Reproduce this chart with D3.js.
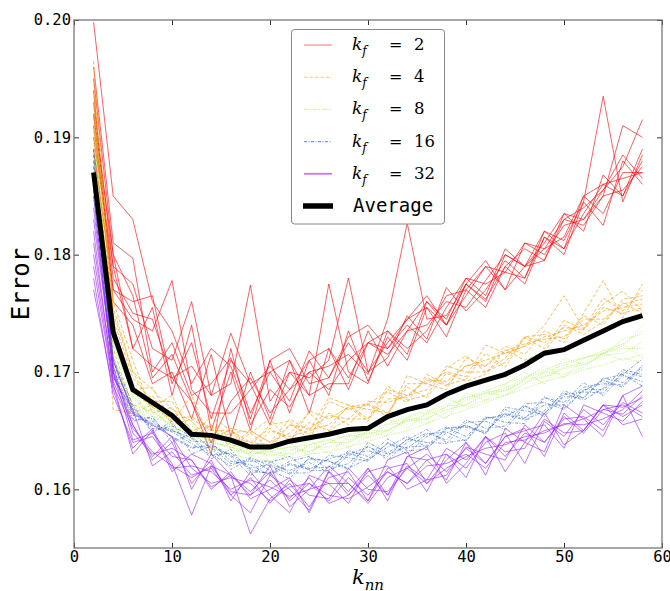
<!DOCTYPE html>
<html>
<head>
<meta charset="utf-8">
<script src="https://cdn.jsdelivr.net/npm/d3@7"></script>
<style>
  body { margin: 0; background: #fff; }
  svg { display: block; }
</style>
</head>
<body>
<svg id="chart" width="670" height="591"></svg>
<script>
// Neighbourhood sizes on the x axis
const kNN = [2,4,6,8,10,12,14,16,18,20,22,24,26,28,30,32,34,36,38,40,42,44,46,48,50,52,54,56,58];

// Axis ticks
const xTicks = [0, 10, 20, 30, 40, 50, 60];
const yTicks = [0.16, 0.17, 0.18, 0.19, 0.20];

// Error curves, one row per run, for each k_f
const runsKf2 = [
  [.1998,.1850,.1830,.1760,.1735,.1690,.1720,.1705,.1660,.1710,.1720,.1690,.1695,.1730,.1740,.1720,.1745,.1765,.1740,.1775,.1795,.1770,.1790,.1805,.1830,.1840,.1855,.1875,.1915],
  [.1950,.1800,.1720,.1755,.1680,.1740,.1650,.1700,.1650,.1710,.1665,.1710,.1680,.1735,.1692,.1730,.1710,.1755,.1730,.1770,.1755,.1790,.1775,.1815,.1800,.1845,.1825,.1880,.1860],
  [.1920,.1770,.1760,.1765,.1690,.1725,.1660,.1710,.1690,.1655,.1700,.1680,.1775,.1700,.1690,.1735,.1715,.1760,.1740,.1775,.1760,.1800,.1790,.1820,.1805,.1835,.1860,.1850,.1890],
  [.1900,.1790,.1775,.1720,.1710,.1760,.1680,.1733,.1690,.1700,.1675,.1718,.1695,.1725,.1700,.1712,.1748,.1728,.1772,.1752,.1770,.1795,.1780,.1815,.1805,.1850,.1835,.1870,.1870],
  [.1940,.1760,.1740,.1690,.1700,.1660,.1715,.1645,.1700,.1660,.1710,.1680,.1690,.1690,.1735,.1705,.1735,.1760,.1745,.1780,.1765,.1805,.1790,.1795,.1835,.1820,.1868,.1850,.1880],
  [.1960,.1810,.1797,.1700,.1725,.1680,.1690,.1712,.1665,.1700,.1710,.1665,.1720,.1685,.1725,.1735,.1720,.1735,.1765,.1770,.1790,.1770,.1810,.1800,.1825,.1830,.1855,.1885,.1865],
  [.1910,.1780,.1750,.1745,.1695,.1705,.1680,.1690,.1774,.1675,.1700,.1695,.1710,.1780,.1700,.1725,.1745,.1755,.1740,.1765,.1790,.1785,.1780,.1820,.1812,.1845,.1935,.1845,.1885],
  [.1930,.1790,.1720,.1705,.1695,.1675,.1630,.1720,.1655,.1685,.1670,.1700,.1705,.1715,.1698,.1745,.1827,.1745,.1748,.1775,.1762,.1790,.1805,.1795,.1830,.1825,.1850,.1855,.1875],
  [.1890,.1770,.1745,.1735,.1778,.1685,.1665,.1665,.1685,.1705,.1685,.1700,.1685,.1710,.1725,.1715,.1735,.1740,.1760,.1755,.1778,.1800,.1790,.1810,.1835,.1830,.1850,.1910,.1900],
  [.1920,.1800,.1765,.1695,.1715,.1675,.1640,.1675,.1695,.1665,.1685,.1710,.1720,.1695,.1725,.1720,.1740,.1725,.1755,.1780,.1775,.1785,.1810,.1805,.1815,.1850,.1860,.1865,.1870]
];

const runsKf4 = [
  [.1965,.1750,.1700,.1670,.1680,.1645,.1662,.1650,.1637,.1655,.1658,.1642,.1675,.1668,.1672,.1662,.1697,.1690,.1700,.1696,.1723,.1716,.1722,.1740,.1765,.1737,.1763,.1752,.1770],
  [.1910,.1730,.1685,.1687,.1657,.1680,.1640,.1652,.1648,.1660,.1640,.1667,.1660,.1670,.1658,.1685,.1680,.1685,.1703,.1714,.1700,.1708,.1729,.1720,.1744,.1736,.1758,.1769,.1752],
  [.1940,.1760,.1710,.1665,.1670,.1643,.1655,.1635,.1648,.1635,.1655,.1647,.1665,.1655,.1673,.1683,.1674,.1698,.1689,.1694,.1716,.1704,.1730,.1732,.1725,.1750,.1778,.1746,.1775],
  [.1900,.1720,.1670,.1680,.1655,.1660,.1650,.1650,.1631,.1650,.1645,.1650,.1655,.1670,.1673,.1665,.1687,.1678,.1699,.1692,.1698,.1719,.1710,.1717,.1740,.1732,.1743,.1759,.1750],
  [.1930,.1745,.1695,.1675,.1675,.1650,.1645,.1650,.1640,.1652,.1642,.1657,.1650,.1660,.1660,.1677,.1678,.1695,.1688,.1706,.1705,.1718,.1724,.1728,.1730,.1745,.1745,.1758,.1762],
  [.1950,.1735,.1685,.1670,.1660,.1662,.1652,.1638,.1650,.1640,.1660,.1650,.1678,.1672,.1660,.1688,.1676,.1680,.1705,.1700,.1700,.1712,.1730,.1725,.1738,.1736,.1755,.1750,.1755],
  [.1920,.1755,.1700,.1685,.1668,.1658,.1640,.1648,.1650,.1640,.1648,.1665,.1650,.1672,.1668,.1665,.1690,.1690,.1685,.1712,.1705,.1722,.1715,.1735,.1728,.1748,.1740,.1762,.1765],
  [.1890,.1668,.1665,.1672,.1662,.1650,.1655,.1644,.1640,.1638,.1655,.1652,.1663,.1660,.1675,.1674,.1680,.1693,.1692,.1705,.1710,.1716,.1722,.1730,.1735,.1740,.1752,.1755,.1758]
];

const runsKf8 = [
  [.1920,.1730,.1685,.1658,.1665,.1642,.1652,.1640,.1628,.1635,.1640,.1628,.1648,.1642,.1650,.1660,.1652,.1665,.1678,.1670,.1676,.1690,.1700,.1690,.1712,.1706,.1715,.1728,.1732],
  [.1880,.1710,.1668,.1672,.1648,.1658,.1635,.1630,.1638,.1624,.1632,.1642,.1630,.1645,.1648,.1646,.1662,.1668,.1660,.1682,.1676,.1680,.1694,.1705,.1695,.1712,.1716,.1710,.1715],
  [.1910,.1725,.1680,.1662,.1660,.1650,.1640,.1636,.1632,.1630,.1628,.1638,.1643,.1636,.1645,.1655,.1658,.1664,.1670,.1678,.1682,.1686,.1695,.1700,.1706,.1712,.1716,.1722,.1740],
  [.1870,.1715,.1665,.1668,.1652,.1648,.1642,.1634,.1630,.1634,.1636,.1632,.1640,.1646,.1644,.1650,.1660,.1656,.1666,.1676,.1682,.1680,.1690,.1700,.1698,.1704,.1716,.1724,.1712],
  [.1930,.1735,.1678,.1662,.1656,.1652,.1640,.1636,.1630,.1632,.1630,.1636,.1636,.1640,.1648,.1650,.1658,.1660,.1668,.1672,.1680,.1684,.1692,.1695,.1703,.1706,.1714,.1716,.1726],
  [.1890,.1705,.1672,.1666,.1654,.1648,.1644,.1638,.1634,.1628,.1634,.1632,.1640,.1640,.1650,.1650,.1660,.1660,.1671,.1672,.1683,.1684,.1694,.1696,.1704,.1708,.1716,.1720,.1720],
  [.1905,.1722,.1682,.1670,.1658,.1654,.1646,.1640,.1635,.1632,.1636,.1638,.1642,.1646,.1651,.1656,.1661,.1666,.1672,.1678,.1684,.1690,.1696,.1702,.1708,.1712,.1718,.1724,.1735],
  [.1875,.1712,.1668,.1660,.1650,.1644,.1636,.1630,.1626,.1624,.1626,.1630,.1632,.1636,.1641,.1646,.1650,.1656,.1662,.1668,.1674,.1680,.1686,.1692,.1696,.1702,.1706,.1712,.1708]
];

const runsKf16 = [
  [.1890,.1712,.1672,.1648,.1658,.1630,.1637,.1628,.1612,.1623,.1628,.1616,.1616,.1633,.1628,.1643,.1633,.1634,.1652,.1653,.1648,.1670,.1667,.1664,.1684,.1678,.1694,.1698,.1711],
  [.1850,.1698,.1658,.1662,.1640,.1648,.1635,.1617,.1626,.1616,.1609,.1627,.1624,.1617,.1640,.1631,.1642,.1651,.1640,.1642,.1662,.1657,.1656,.1678,.1674,.1691,.1680,.1697,.1692],
  [.1880,.1708,.1668,.1652,.1650,.1644,.1626,.1634,.1615,.1614,.1624,.1628,.1617,.1622,.1637,.1625,.1640,.1648,.1642,.1659,.1652,.1654,.1673,.1674,.1668,.1684,.1693,.1687,.1706],
  [.1860,.1700,.1660,.1658,.1645,.1636,.1636,.1622,.1624,.1624,.1614,.1614,.1629,.1627,.1624,.1640,.1630,.1645,.1653,.1645,.1660,.1664,.1659,.1667,.1682,.1676,.1686,.1702,.1698],
  [.1875,.1702,.1664,.1654,.1651,.1641,.1640,.1624,.1621,.1612,.1621,.1617,.1626,.1631,.1625,.1636,.1645,.1636,.1648,.1655,.1647,.1668,.1661,.1672,.1672,.1687,.1690,.1689,.1702],
  [.1865,.1710,.1666,.1656,.1649,.1639,.1629,.1631,.1618,.1621,.1616,.1623,.1614,.1629,.1633,.1628,.1643,.1640,.1639,.1657,.1658,.1651,.1671,.1662,.1681,.1683,.1682,.1700,.1696],
  [.1885,.1704,.1670,.1650,.1654,.1645,.1630,.1620,.1627,.1620,.1613,.1626,.1624,.1618,.1626,.1639,.1635,.1647,.1649,.1641,.1661,.1662,.1671,.1665,.1679,.1678,.1695,.1691,.1704],
  [.1855,.1696,.1663,.1660,.1644,.1635,.1638,.1629,.1617,.1613,.1622,.1618,.1619,.1630,.1636,.1630,.1636,.1637,.1652,.1654,.1649,.1665,.1660,.1679,.1669,.1685,.1685,.1698,.1688]
];

const runsKf32 = [
  [.1860,.1710,.1665,.1655,.1645,.1600,.1630,.1612,.1595,.1620,.1585,.1600,.1620,.1605,.1590,.1625,.1632,.1605,.1625,.1640,.1612,.1652,.1640,.1632,.1672,.1660,.1645,.1680,.1688],
  [.1800,.1690,.1630,.1650,.1615,.1630,.1622,.1595,.1580,.1612,.1600,.1582,.1616,.1598,.1618,.1590,.1628,.1636,.1605,.1622,.1645,.1615,.1640,.1665,.1638,.1650,.1672,.1655,.1660],
  [.1840,.1700,.1655,.1625,.1640,.1605,.1625,.1590,.1615,.1595,.1580,.1612,.1605,.1588,.1618,.1595,.1628,.1625,.1608,.1640,.1622,.1645,.1652,.1628,.1665,.1650,.1672,.1670,.1678],
  [.1780,.1680,.1640,.1645,.1622,.1578,.1620,.1612,.1562,.1592,.1605,.1585,.1610,.1615,.1590,.1618,.1622,.1598,.1630,.1618,.1640,.1648,.1622,.1658,.1645,.1668,.1655,.1674,.1665],
  [.1830,.1705,.1648,.1630,.1635,.1625,.1602,.1612,.1598,.1615,.1590,.1605,.1590,.1610,.1595,.1615,.1605,.1625,.1630,.1610,.1645,.1628,.1648,.1640,.1660,.1662,.1650,.1680,.1645],
  [.1810,.1695,.1668,.1620,.1632,.1612,.1618,.1595,.1610,.1588,.1608,.1595,.1592,.1618,.1600,.1598,.1618,.1630,.1615,.1635,.1622,.1645,.1650,.1655,.1635,.1672,.1665,.1658,.1675],
  [.1850,.1700,.1642,.1648,.1628,.1625,.1600,.1615,.1592,.1600,.1610,.1580,.1615,.1595,.1615,.1620,.1600,.1608,.1635,.1625,.1645,.1632,.1635,.1660,.1648,.1650,.1672,.1662,.1672],
  [.1790,.1688,.1652,.1632,.1620,.1610,.1620,.1598,.1595,.1608,.1592,.1610,.1588,.1595,.1612,.1595,.1620,.1608,.1612,.1636,.1630,.1625,.1655,.1640,.1662,.1648,.1668,.1672,.1662],
  [.1820,.1692,.1655,.1628,.1645,.1618,.1605,.1610,.1605,.1590,.1602,.1605,.1595,.1592,.1602,.1615,.1605,.1620,.1622,.1630,.1618,.1640,.1642,.1650,.1655,.1660,.1668,.1664,.1680],
  [.1770,.1685,.1635,.1652,.1618,.1620,.1615,.1600,.1608,.1602,.1594,.1600,.1605,.1605,.1588,.1610,.1618,.1605,.1618,.1628,.1635,.1638,.1645,.1648,.1656,.1655,.1660,.1668,.1684]
];

// Mean error over every run
const averageError = [.1870,.1734,.1685,.1674,.1663,.1647,.1646,.1642,.1636,.1636,.1641,.1644,.1647,.1651,.1652,.1662,.1668,.1672,.1681,.1688,.1693,.1698,.1706,.1716,.1719,.1727,.1735,.1743,.1748];

const groups = [
  { kf: "2",  runs: runsKf2,  color: "#ff0000", dash: null,          width: 1.0, opacity: 0.62 },
  { kf: "4",  runs: runsKf4,  color: "#ff9900", dash: "3.5,2",       width: 1.0, opacity: 0.65 },
  { kf: "8",  runs: runsKf8,  color: "#99f02a", dash: "1,1.5",       width: 1.0, opacity: 0.6 },
  { kf: "16", runs: runsKf16, color: "#1a55c8", dash: "3,1.5,1,1.5", width: 0.8, opacity: 0.7 },
  { kf: "32", runs: runsKf32, color: "#9a1cff", dash: null,          width: 1.0, opacity: 0.6 }
];

const svg = d3.select("#chart");
const margin = { left: 74, right: 8, top: 20, bottom: 43 };
const W = 670, H = 591;

const x = d3.scaleLinear().domain([0, 60]).range([margin.left, W - margin.right]);
const y = d3.scaleLinear().domain([0.155, 0.20]).range([H - margin.bottom, margin.top]);

svg.append("defs").append("clipPath").attr("id", "plot-clip")
  .append("rect")
  .attr("x", x(0)).attr("y", y(0.20))
  .attr("width", x(60) - x(0)).attr("height", y(0.155) - y(0.20));

const line = d3.line()
  .x((d, i) => x(kNN[i]))
  .y(d => y(d));

const plot = svg.append("g").attr("clip-path", "url(#plot-clip)");

groups.forEach(g => {
  plot.append("g")
    .selectAll("path")
    .data(g.runs)
    .join("path")
    .attr("d", line)
    .attr("fill", "none")
    .attr("stroke", g.color)
    .attr("stroke-width", g.width)
    .attr("stroke-opacity", g.opacity)
    .attr("stroke-dasharray", g.dash);
});

plot.append("path")
  .attr("d", line(averageError))
  .attr("fill", "none")
  .attr("stroke", "#000")
  .attr("stroke-width", 5)
  .attr("stroke-linejoin", "miter");

// Axes with inward ticks on all four sides
const tickFont = "'DejaVu Sans Mono', monospace";
const xAxisB = d3.axisBottom(x).tickValues(xTicks).tickFormat(d3.format("d")).tickSizeInner(-5).tickSizeOuter(0).tickPadding(3);
const xAxisT = d3.axisTop(x).tickValues(xTicks).tickFormat("").tickSizeInner(-5).tickSizeOuter(0);
const yAxisL = d3.axisLeft(y).tickValues(yTicks).tickFormat(d3.format(".2f")).tickSizeInner(-5).tickSizeOuter(0).tickPadding(3);
const yAxisR = d3.axisRight(y).tickValues(yTicks).tickFormat("").tickSizeInner(-5).tickSizeOuter(0);

function styleAxis(g) {
  g.select(".domain").remove();
  g.selectAll(".tick line").attr("stroke", "#333").attr("stroke-width", 1);
  g.selectAll(".tick text").attr("font-family", tickFont).attr("font-size", 15.5).attr("fill", "#000");
}

svg.append("g").attr("transform", `translate(0,${y(0.155)})`).call(xAxisB).call(styleAxis);
svg.append("g").attr("transform", `translate(0,${y(0.20)})`).call(xAxisT).call(styleAxis);
svg.append("g").attr("transform", `translate(${x(0)},0)`).call(yAxisL).call(styleAxis);
svg.append("g").attr("transform", `translate(${x(60)},0)`).call(yAxisR).call(styleAxis);

svg.append("rect")
  .attr("x", x(0)).attr("y", y(0.20))
  .attr("width", x(60) - x(0)).attr("height", y(0.155) - y(0.20))
  .attr("fill", "none").attr("stroke", "#777").attr("stroke-width", 1.3);

// Axis titles
const xTitle = svg.append("text")
  .attr("x", x(30)).attr("y", 584)
  .attr("text-anchor", "middle")
  .attr("font-family", "'DejaVu Serif', serif")
  .attr("font-style", "italic");
xTitle.append("tspan").attr("font-size", 21).text("k");
xTitle.append("tspan").attr("font-size", 15).attr("dy", 6).text("nn");

svg.append("text")
  .attr("transform", `translate(29,${(y(0.155) + y(0.20)) / 2}) rotate(-90)`)
  .attr("text-anchor", "middle")
  .attr("font-family", tickFont)
  .attr("font-size", 24)
  .text("Error");

// Legend
const legend = svg.append("g");
legend.append("rect")
  .attr("x", 291.5).attr("y", 29.5).attr("width", 153).attr("height", 194.5)
  .attr("rx", 3).attr("ry", 3)
  .attr("fill", "#fff").attr("stroke", "#888").attr("stroke-width", 1);

const rowY = i => 45 + i * 32.2;
groups.forEach((g, i) => {
  const cy = rowY(i);
  legend.append("line")
    .attr("x1", 304).attr("x2", 332).attr("y1", cy).attr("y2", cy)
    .attr("stroke", g.color)
    .attr("stroke-width", g.kf === "32" ? 1.8 : 1.1)
    .attr("stroke-opacity", g.kf === "2" ? 0.5 : 0.6)
    .attr("stroke-dasharray", g.dash);
  const t = legend.append("text")
    .attr("x", 352).attr("y", cy + 5)
    .attr("font-family", "'DejaVu Serif', serif")
    .attr("font-style", "italic");
  t.append("tspan").attr("font-size", 17).text("k");
  t.append("tspan").attr("font-size", 12).attr("dy", 5).text("f");
  legend.append("text")
    .attr("x", 389).attr("y", cy + 5)
    .attr("font-family", "'DejaVu Serif', serif")
    .attr("font-size", 16)
    .text("=");
  legend.append("text")
    .attr("x", 414).attr("y", cy + 5)
    .attr("font-family", "'DejaVu Serif', serif")
    .attr("font-size", 16.5)
    .text(g.kf);
});

const avgY = rowY(5);
legend.append("line")
  .attr("x1", 303).attr("x2", 333).attr("y1", avgY).attr("y2", avgY)
  .attr("stroke", "#000").attr("stroke-width", 5.5);
legend.append("text")
  .attr("x", 353).attr("y", avgY + 6)
  .attr("font-family", tickFont)
  .attr("font-size", 19)
  .text("Average");
</script>
</body>
</html>
